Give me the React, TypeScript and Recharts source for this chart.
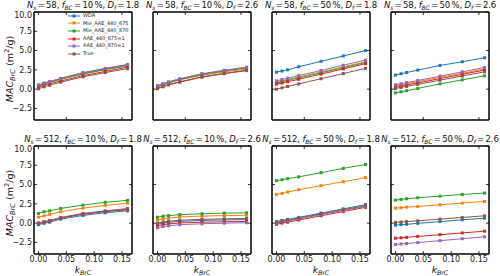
import { LineChart, Line, XAxis, YAxis } from "recharts"

const kBrC = [0, 0.01, 0.02, 0.04, 0.08, 0.12, 0.16]
const seriesNames = ["WDA", "Mie_AAE_440_675", "Mie_AAE_440_870", "AAE_440_675=1", "AAE_440_870=1", "True"]
const seriesColors = ["#1f77b4", "#ff7f0e", "#2ca02c", "#d62728", "#9467bd", "#8c564b"]
const xTicks = [0, 0.05, 0.1, 0.15]
const yTicks = [-2.5, 0, 2.5, 5, 7.5, 10]

const panelNs = ["58", "58", "58", "58", "512", "512", "512", "512"]
const panelFbc = ["10", "10", "50", "50", "10", "10", "50", "50"]
const panelDf = ["1.8", "2.6", "1.8", "2.6", "1.8", "2.6", "1.8", "2.6"]

// order of each list follows seriesNames
const macA = [
  [0.5, 0.75, 0.95, 1.35, 2.1, 2.65, 3.15],
  [0.4, 0.65, 0.85, 1.25, 1.95, 2.5, 3.0],
  [0.45, 0.7, 0.9, 1.3, 2.0, 2.55, 3.05],
  [0.25, 0.5, 0.7, 1.05, 1.75, 2.3, 2.85],
  [0.55, 0.8, 1.0, 1.4, 2.15, 2.7, 3.2],
  [0.05, 0.3, 0.5, 0.9, 1.6, 2.15, 2.65],
]
const macB = [
  [0.4, 0.65, 0.9, 1.3, 1.95, 2.4, 2.8],
  [0.3, 0.55, 0.8, 1.2, 1.8, 2.25, 2.6],
  [0.35, 0.6, 0.85, 1.25, 1.9, 2.35, 2.75],
  [0.1, 0.35, 0.6, 0.95, 1.6, 2.05, 2.45],
  [0.45, 0.7, 0.95, 1.35, 2.0, 2.45, 2.85],
  [0.05, 0.3, 0.55, 0.9, 1.55, 2.0, 2.4],
]
const macC = [
  [2.2, 2.35, 2.5, 2.9, 3.6, 4.3, 5.0],
  [0.9, 1.07, 1.24, 1.57, 2.22, 2.88, 3.55],
  [0.8, 0.97, 1.13, 1.46, 2.12, 2.78, 3.45],
  [0.65, 0.8, 0.96, 1.28, 1.95, 2.62, 3.3],
  [1.08, 1.25, 1.42, 1.75, 2.42, 3.1, 3.77],
  [0.0, 0.17, 0.34, 0.68, 1.35, 2.02, 2.7],
]
const macD = [
  [1.82, 2.0, 2.15, 2.47, 3.07, 3.55, 4.07],
  [0.43, 0.57, 0.7, 0.97, 1.52, 2.06, 2.6],
  [-0.48, -0.35, -0.2, 0.08, 0.69, 1.2, 1.73],
  [0.26, 0.4, 0.54, 0.81, 1.36, 1.92, 2.47],
  [0.56, 0.7, 0.84, 1.12, 1.68, 2.24, 2.8],
  [0.08, 0.22, 0.35, 0.62, 1.16, 1.7, 2.25],
]
const macE = [
  [-0.2, -0.02, 0.12, 0.52, 1.0, 1.35, 1.6],
  [0.78, 0.95, 1.13, 1.47, 1.95, 2.3, 2.6],
  [1.26, 1.47, 1.6, 1.9, 2.34, 2.7, 2.95],
  [-0.05, 0.12, 0.27, 0.66, 1.16, 1.5, 1.75],
  [0.04, 0.2, 0.35, 0.74, 1.26, 1.6, 1.9],
  [0.0, 0.16, 0.31, 0.7, 1.21, 1.55, 1.82],
]
const macF = [
  [-0.15, 0.0, 0.1, 0.22, 0.35, 0.42, 0.46],
  [0.44, 0.58, 0.66, 0.8, 0.92, 0.98, 1.02],
  [0.77, 0.9, 0.98, 1.1, 1.22, 1.3, 1.34],
  [-0.35, -0.2, -0.1, 0.02, 0.12, 0.18, 0.22],
  [-0.6, -0.45, -0.35, -0.2, -0.08, 0.0, 0.05],
  [0.0, 0.15, 0.25, 0.38, 0.5, 0.56, 0.6],
]
const macG = [
  [0.2, 0.35, 0.48, 0.75, 1.3, 1.85, 2.4],
  [3.72, 3.85, 4.03, 4.33, 4.85, 5.37, 5.9],
  [5.5, 5.63, 5.76, 6.0, 6.54, 7.1, 7.6],
  [-0.15, 0.0, 0.12, 0.4, 0.95, 1.5, 2.05],
  [0.0, 0.15, 0.28, 0.55, 1.1, 1.65, 2.15],
  [0.1, 0.25, 0.38, 0.65, 1.2, 1.75, 2.25],
]
const macH = [
  [-0.26, -0.2, -0.15, -0.03, 0.2, 0.43, 0.65],
  [1.95, 2.0, 2.08, 2.16, 2.38, 2.6, 2.81],
  [2.99, 3.07, 3.16, 3.29, 3.5, 3.72, 3.9],
  [-1.95, -1.9, -1.84, -1.72, -1.5, -1.27, -1.04],
  [-2.77, -2.7, -2.64, -2.52, -2.27, -2.02, -1.77],
  [0.09, 0.14, 0.2, 0.3, 0.52, 0.74, 0.95],
]
const panelData = [macA, macB, macC, macD, macE, macF, macG, macH]

const colLeft = [34, 153, 272, 391]
const rowTop = [12, 146]
const plotW = 98
const plotH = 108
const yAxisW = 28
const font = "'DejaVu Sans', sans-serif"

const EmptyTick = () => <g />

const SquareDot = (props: any) => {
  const { cx, cy, stroke } = props
  if (cx == null || cy == null) return <g />
  return <rect x={cx - 1.5} y={cy - 1.5} width={3} height={3} fill={stroke} />
}

const sub = { fontSize: "70%", verticalAlign: "-0.3em" } as const
const eq = { margin: "0 1.5px" } as const

function Title({ i }: { i: number }) {
  return (
    <span>
      <i>N</i><i style={sub}>s</i><span style={eq}>=</span>{panelNs[i]}, <i>f</i><i style={sub}>BC</i><span style={eq}>=</span>{panelFbc[i]}&thinsp;%, <i>D</i><i style={sub}>f</i><span style={eq}>=</span>{panelDf[i]}
    </span>
  )
}

function Panel({ i }: { i: number }) {
  const col = i % 4
  const row = Math.floor(i / 4)
  const left = colLeft[col]
  const top = rowTop[row]
  const mac = panelData[i]
  const rows = kBrC.map((k, j) => {
    const r: any = { k }
    mac.forEach((s, n) => (r["s" + n] = s[j]))
    return r
  })
  const showY = col === 0
  const showX = row === 1
  const axisLine = { stroke: "#000", strokeWidth: 1.5 }
  const tickLine = { stroke: "#000", strokeWidth: 0.8 }
  const tickStyle = { fontSize: 8, fill: "#222", fontFamily: font }
  return (
    <>
      <div
        style={{
          position: "absolute",
          left: left - 20,
          width: plotW + 40,
          top: top - 12,
          textAlign: "center",
          fontSize: 8.5,
          lineHeight: "11px",
          whiteSpace: "nowrap",
          color: "#111",
          letterSpacing: -0.15,
        }}
      >
        <Title i={i} />
      </div>
      <div style={{ position: "absolute", left: left - yAxisW, top: top - 1 }}>
        <LineChart
          width={yAxisW + plotW + 1}
          height={1 + plotH + 24}
          data={rows}
          margin={{ top: 0, right: 0, bottom: 0, left: 0 }}
        >
          <XAxis
            xAxisId="b"
            dataKey="k"
            type="number"
            domain={[-0.008, 0.168]}
            ticks={xTicks}
            allowDataOverflow
            height={24}
            tickSize={-3}
            tickMargin={5}
            axisLine={axisLine}
            tickLine={tickLine}
            tick={showX ? tickStyle : EmptyTick}
            tickFormatter={(v: number) => v.toFixed(2)}
          />
          <XAxis
            xAxisId="t"
            orientation="top"
            dataKey="k"
            type="number"
            domain={[-0.008, 0.168]}
            ticks={xTicks}
            allowDataOverflow
            height={1}
            tickSize={-3}
            axisLine={axisLine}
            tickLine={tickLine}
            tick={EmptyTick}
          />
          <YAxis
            yAxisId="l"
            type="number"
            domain={[-4, 10]}
            ticks={yTicks}
            allowDataOverflow
            width={yAxisW}
            tickSize={-3}
            tickMargin={5}
            axisLine={axisLine}
            tickLine={tickLine}
            tick={showY ? tickStyle : EmptyTick}
            tickFormatter={(v: number) => v.toFixed(1).replace("-", "\u2212")}
          />
          <YAxis
            yAxisId="r"
            orientation="right"
            type="number"
            domain={[-4, 10]}
            ticks={yTicks}
            allowDataOverflow
            width={1}
            tickSize={-3}
            axisLine={axisLine}
            tickLine={tickLine}
            tick={EmptyTick}
          />
          {seriesNames.map((name, n) => (
            <Line
              key={name}
              name={name}
              xAxisId="b"
              yAxisId="l"
              dataKey={"s" + n}
              stroke={seriesColors[n]}
              strokeWidth={1}
              dot={<SquareDot />}
              isAnimationActive={false}
            />
          ))}
        </LineChart>
      </div>
      {showX && (
        <div
          style={{
            position: "absolute",
            left,
            width: plotW,
            top: top + plotH + 11,
            textAlign: "center",
            fontSize: 9,
            color: "#111",
          }}
        >
          <i>k</i><i style={sub}>BrC</i>
        </div>
      )}
      {showY && (
        <div
          style={{
            position: "absolute",
            left: 10 - 50,
            top: top + plotH / 2 - 6,
            width: 100,
            textAlign: "center",
            fontSize: 9.5,
            lineHeight: "12px",
            color: "#111",
            transform: "rotate(-90deg)",
            whiteSpace: "nowrap",
          }}
        >
          <i>MAC</i><i style={sub}>BrC</i> (m<sup style={{ fontSize: "70%" }}>2</sup>/g)
        </div>
      )}
    </>
  )
}

function LegendBox() {
  return (
    <div
      style={{
        position: "absolute",
        left: 68,
        top: 12,
        fontSize: 5,
        lineHeight: "7.6px",
        color: "#222",
      }}
    >
      {seriesNames.map((name, n) => (
        <div key={name} style={{ display: "flex", alignItems: "center", height: 7.6 }}>
          <svg width={12} height={6} style={{ marginRight: 3 }}>
            <line x1={0} y1={3} x2={12} y2={3} stroke={seriesColors[n]} strokeWidth={1} />
            <rect x={4.5} y={1.5} width={3} height={3} fill={seriesColors[n]} />
          </svg>
          <span>{name}</span>
        </div>
      ))}
    </div>
  )
}

export default function App() {
  return (
    <div
      style={{
        position: "absolute",
        left: 0,
        top: 0,
        width: 500,
        height: 276,
        background: "#fff",
        fontFamily: font,
        overflow: "hidden",
      }}
    >
      {panelData.map((_, i) => (
        <Panel key={i} i={i} />
      ))}
      <LegendBox />
    </div>
  )
}
